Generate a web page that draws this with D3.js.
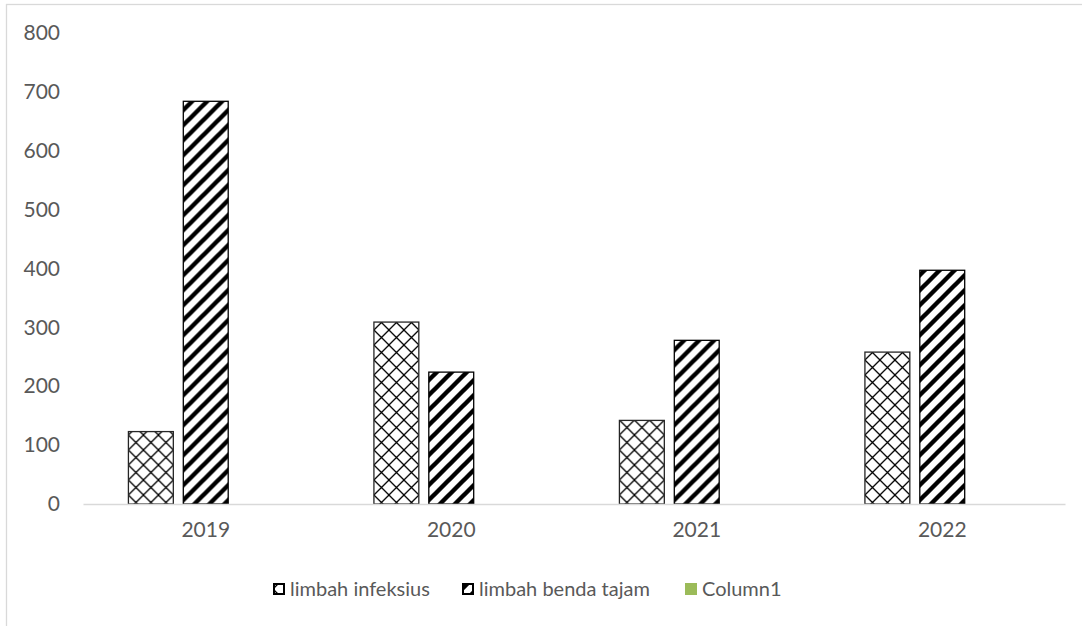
<!DOCTYPE html>
<html>
<head>
<meta charset="utf-8">
<script src="https://cdn.jsdelivr.net/npm/d3@7"></script>
<style>
  html, body { margin: 0; padding: 0; background: #ffffff; }
  svg { display: block; }
</style>
</head>
<body>
<svg id="chart" width="1082" height="626"></svg>
<script>
// Waste volumes per year
const years = ["2019", "2020", "2021", "2022"];
const seriesNames = ["limbah infeksius", "limbah benda tajam", "Column1"];
const infeksius = [123, 309, 142, 258];
const bendaTajam = [684, 224, 278, 397];
const column1 = [null, null, null, null];
const yTicks = [0, 100, 200, 300, 400, 500, 600, 700, 800];

const seriesValues = [infeksius, bendaTajam, column1];

const W = 1082, H = 626;
const margin = { left: 83, right: 17, top: 33, bottom: 122 };

const svg = d3.select("#chart");
const defs = svg.append("defs");

// Diagonal crosshatch fill
const cross = defs.append("pattern")
  .attr("id", "pat-cross")
  .attr("patternUnits", "userSpaceOnUse")
  .attr("width", 15).attr("height", 15);
cross.append("rect").attr("width", 15).attr("height", 15).attr("fill", "#fff");
cross.append("path")
  .attr("d", "M0,0 L15,15 M15,0 L0,15 M-1,14 L1,16 M14,-1 L16,1 M-1,1 L1,-1 M14,16 L16,14")
  .attr("stroke", "#000").attr("stroke-width", 1.3).attr("fill", "none");

// Wide upward diagonal stripes
const stripe = defs.append("pattern")
  .attr("id", "pat-stripe")
  .attr("patternUnits", "userSpaceOnUse")
  .attr("width", 15).attr("height", 15);
stripe.append("rect").attr("width", 15).attr("height", 15).attr("fill", "#fff");
stripe.append("path")
  .attr("d", "M-4,19 L19,-4 M-4,4 L4,-4 M11,19 L19,11")
  .attr("stroke", "#000").attr("stroke-width", 4.4).attr("fill", "none");

const fills = ["url(#pat-cross)", "url(#pat-stripe)", "#9bbb59"];

// Chart area border
svg.append("rect")
  .attr("x", 6.5).attr("y", 4.5)
  .attr("width", W + 20).attr("height", H + 20)
  .attr("fill", "none").attr("stroke", "#d9d9d9").attr("stroke-width", 1.3);

const x0 = d3.scaleBand()
  .domain(years)
  .range([margin.left, W - margin.right])
  .paddingInner(0.37).paddingOuter(0.185);

const x1 = d3.scaleBand()
  .domain(seriesNames)
  .range([0, x0.bandwidth()])
  .paddingInner(10 / 55);

const y = d3.scaleLinear()
  .domain([0, 800])
  .range([H - margin.bottom, margin.top]);

// Y axis labels
const yAxis = d3.axisLeft(y).tickValues(yTicks).tickSize(0).tickPadding(0);
const gy = svg.append("g")
  .attr("transform", `translate(60,0)`)
  .call(yAxis);
gy.select(".domain").remove();
gy.selectAll("text")
  .attr("fill", "#595959")
  .style("font-family", "Lato, 'Open Sans', sans-serif")
  .style("font-size", "21px");

// Bars
const groups = svg.append("g").selectAll("g")
  .data(years)
  .join("g")
  .attr("transform", d => `translate(${x0(d)},0)`);

groups.selectAll("rect")
  .data((d, i) => seriesNames.map((s, k) => ({ s, k, v: seriesValues[k][i] })).filter(e => e.v != null))
  .join("rect")
  .attr("x", d => x1(d.s))
  .attr("width", x1.bandwidth())
  .attr("y", d => y(d.v))
  .attr("height", d => y(0) - y(d.v))
  .attr("fill", d => fills[d.k])
  .attr("stroke", d => d.k === 0 ? "#262626" : "#000")
  .attr("stroke-width", 1.3);

// X axis baseline and labels
const xAxis = d3.axisBottom(x0).tickSize(0).tickPadding(0);
const gx = svg.append("g")
  .attr("transform", `translate(0,${y(0)})`)
  .call(xAxis);
gx.select(".domain")
  .attr("stroke", "#d9d9d9").attr("stroke-width", 1.5);
gx.selectAll("text")
  .attr("dy", "1.55em")
  .attr("fill", "#595959")
  .style("font-family", "Lato, 'Open Sans', sans-serif")
  .style("font-size", "21px");

// Legend
const legendItems = [
  { name: seriesNames[0], fill: fills[0], x: 273, stroke: "#000", size: 10 },
  { name: seriesNames[1], fill: fills[1], x: 462, stroke: "#000", size: 10 },
  { name: seriesNames[2], fill: fills[2], x: 685, stroke: "none", size: 12 }
];
const legend = svg.append("g");
const li = legend.selectAll("g").data(legendItems).join("g")
  .attr("transform", d => `translate(${d.x},589)`);
li.append("rect")
  .attr("x", d => d.stroke === "none" ? 0 : 1)
  .attr("y", d => -d.size / 2)
  .attr("width", d => d.size).attr("height", d => d.size)
  .attr("fill", d => d.fill)
  .attr("stroke", d => d.stroke)
  .attr("stroke-width", 2);
li.append("text")
  .attr("x", 17)
  .attr("dy", "0.35em")
  .attr("fill", "#595959")
  .style("font-family", "Lato, 'Open Sans', sans-serif")
  .style("font-size", "20px")
  .text(d => d.name);
</script>
</body>
</html>
